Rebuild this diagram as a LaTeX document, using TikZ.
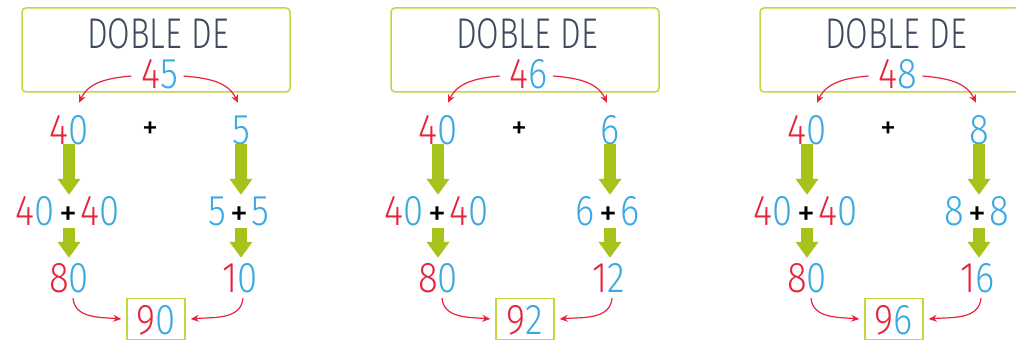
\documentclass[tikz,border=0pt]{standalone}
\usepackage{fontspec}
\setmainfont{Fira Sans Light}
\newfontfamily\numfont{Fira Sans Light}[FakeStretch=0.85]
\newfontfamily\titlefont{Fira Sans Light}[FakeStretch=0.76]
\newfontfamily\plusfont{Fira Sans}
\usetikzlibrary{arrows.meta}
\definecolor{colbox}{HTML}{C8D43C}
\definecolor{colgreen}{HTML}{A6C31C}
\definecolor{colred}{HTML}{E8243C}
\definecolor{colblue}{HTML}{3AA9E1}
\definecolor{coltitle}{HTML}{3E4A5E}
\newcommand{\rd}[1]{\textcolor{colred}{#1}}
\newcommand{\bl}[1]{\textcolor{colblue}{#1}}
\newcommand{\pl}{\kern4pt{\plusfont\fontsize{36}{36}\selectfont\textcolor{black}{+}}\kern4pt}
\tikzset{
    title box/.style={draw=colbox, line width=1.5pt, rounded corners=4pt,
        minimum width=268pt, minimum height=84pt, inner sep=0pt},
    title/.style={font=\titlefont\fontsize{43}{43}\selectfont, text=coltitle,
        inner sep=0pt, text height=30pt, text depth=0pt},
    num/.style={font=\numfont\fontsize{43}{43}\selectfont,
        inner sep=0pt, text height=30pt, text depth=0pt},
    small plus/.style={font=\plusfont\fontsize{32}{32}\selectfont, inner sep=0pt},
    result/.style={num, draw=colbox, line width=1.5pt,
        minimum width=58pt, minimum height=41pt},
    split edge/.style={-{Stealth[length=8pt, width=7pt]}, draw=colred, line width=1.2pt},
    green edge/.style={-{Triangle[length=16pt, width=22pt]}, draw=colgreen, line width=12pt},
}

\begin{document}
\begin{tikzpicture}[x=1pt, y=-1pt]

\clip (0,0) rectangle (1016,342);

% ===== PANEL 45 =====
\node[title box] (boxA) at (156,50) {};
\node[title] (titleA) at (158,34) {DOBLE DE};
\node[num] (bigA) at (160,74) {\rd{4}\bl{5}};
\node[num] (tensA) at (69,129) {\rd{4}\bl{0}};
\node[small plus] (plusA) at (150,130) {+};
\node[num] (unitA) at (241,129) {\bl{5}};
\node[num] (sumlA) at (68,210) {\rd{4}\bl{0}\pl\rd{4}\bl{0}};
\node[num] (sumrA) at (239,210) {\bl{5}\pl\bl{5}};
\node[num] (dbllA) at (69,277) {\rd{8}\bl{0}};
\node[num] (dblrA) at (240,277) {\rd{1}\bl{0}};
\node[result] (resA) at (156,319) {\rd{9}\bl{0}};

% ===== PANEL 46 =====
\node[title box] (boxB) at (525,50) {};
\node[title] (titleB) at (527,34) {DOBLE DE};
\node[num] (bigB) at (529,74) {\rd{4}\bl{6}};
\node[num] (tensB) at (438,129) {\rd{4}\bl{0}};
\node[small plus] (plusB) at (519,130) {+};
\node[num] (unitB) at (610,129) {\bl{6}};
\node[num] (sumlB) at (437,210) {\rd{4}\bl{0}\pl\rd{4}\bl{0}};
\node[num] (sumrB) at (608,210) {\bl{6}\pl\bl{6}};
\node[num] (dbllB) at (438,277) {\rd{8}\bl{0}};
\node[num] (dblrB) at (609,277) {\rd{1}\bl{2}};
\node[result] (resB) at (525,319) {\rd{9}\bl{2}};

% ===== PANEL 48 =====
\node[title box] (boxC) at (894,50) {};
\node[title] (titleC) at (896,34) {DOBLE DE};
\node[num] (bigC) at (898,74) {\rd{4}\bl{8}};
\node[num] (tensC) at (807,129) {\rd{4}\bl{0}};
\node[small plus] (plusC) at (888,130) {+};
\node[num] (unitC) at (979,129) {\bl{8}};
\node[num] (sumlC) at (806,210) {\rd{4}\bl{0}\pl\rd{4}\bl{0}};
\node[num] (sumrC) at (977,210) {\bl{8}\pl\bl{8}};
\node[num] (dbllC) at (807,277) {\rd{8}\bl{0}};
\node[num] (dblrC) at (978,277) {\rd{1}\bl{6}};
\node[result] (resC) at (894,319) {\rd{9}\bl{6}};

% ===== EDGES =====
\foreach \p in {A,B,C} {
    \draw[split edge] ([xshift=-10pt, yshift=-2pt]big\p.west) to[out=185, in=65] ([xshift=10pt, yshift=11pt]tens\p.north);
    \draw[split edge] ([xshift=5pt, yshift=-2pt]big\p.east) to[out=-5, in=115] ([xshift=-3pt, yshift=11pt]unit\p.north);
    \draw[green edge] (tens\p.south) -- (tens\p.south |- suml\p.north);
    \draw[green edge] (unit\p.south) -- (unit\p.south |- sumr\p.north);
    \draw[green edge, shorten <=3pt, shorten >=4pt] (suml\p.south -| dbll\p.north) -- (dbll\p.north);
    \draw[green edge, shorten <=3pt, shorten >=4pt] (sumr\p.south -| unit\p.south) -- (unit\p.south |- dblr\p.north);
    \draw[split edge] ([xshift=4pt, yshift=-6pt]dbll\p.south) to[out=-85, in=175] ([xshift=-5pt]res\p.west);
    \draw[split edge] ([xshift=3pt, yshift=-6pt]dblr\p.south) to[out=-95, in=5] ([xshift=5pt]res\p.east);
}

\end{tikzpicture}
\end{document}
